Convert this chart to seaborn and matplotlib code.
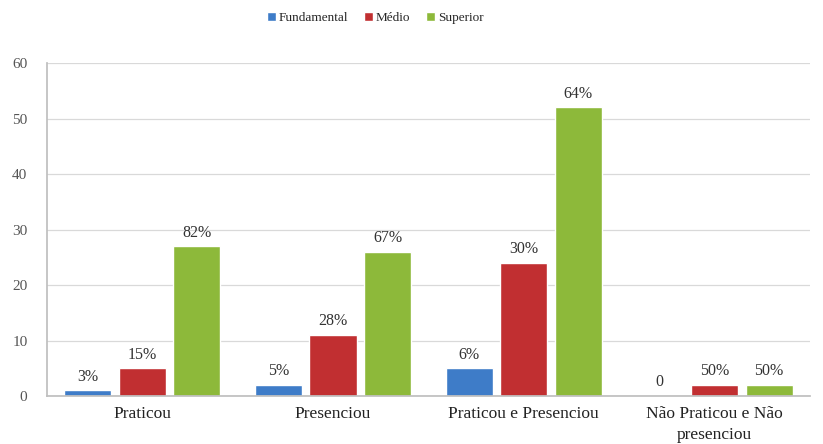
import matplotlib
matplotlib.use("Agg")
import matplotlib.pyplot as plt
import seaborn as sns
import pandas as pd

categories = ["Praticou", "Presenciou", "Praticou e Presenciou", "Não Praticou e Não\npresenciou"]
series = ["Fundamental", "Médio", "Superior"]
fundamental = [1, 2, 5, 0]
medio = [5, 11, 24, 2]
superior = [27, 26, 52, 2]
labels_fundamental = ["3%", "5%", "6%", "0"]
labels_medio = ["15%", "28%", "30%", "50%"]
labels_superior = ["82%", "67%", "64%", "50%"]
yticks = [0, 10, 20, 30, 40, 50, 60]

colors = ["#3E7CC8", "#C12F31", "#8DB93A"]

rows = []
for s, vals in zip(series, [fundamental, medio, superior]):
    for c, v in zip(categories, vals):
        rows.append({"cat": c, "serie": s, "valor": v})
df = pd.DataFrame(rows)

sns.set_theme(style="white")
plt.rcParams["font.family"] = ["Liberation Serif", "DejaVu Serif"]

fig = plt.figure(figsize=(8.23, 4.44), dpi=100)
ax = fig.add_axes([0.057, 0.108, 0.927, 0.75])

sns.barplot(data=df, x="cat", y="valor", hue="serie", palette=colors,
            width=0.86, gap=0.14, ax=ax, saturation=1, legend=True)

for cont, labs in zip(ax.containers, [labels_fundamental, labels_medio, labels_superior]):
    ax.bar_label(cont, labels=labs, padding=4, fontsize=11.5, color="#333333")

ax.set_ylim(0, 60)
ax.set_yticks(yticks)
ax.set_xlim(-0.5, 3.5)
ax.yaxis.grid(True, color="#D9D9D9", linewidth=0.9)
ax.set_axisbelow(True)
for sp in ["top", "right"]:
    ax.spines[sp].set_visible(False)
ax.spines["left"].set_color("#BFBFBF")
ax.spines["bottom"].set_color("#BFBFBF")
ax.tick_params(axis="y", colors="#555555", labelsize=11, length=0, pad=14)
ax.tick_params(axis="x", labelsize=12.5, length=0, pad=7, labelcolor="#222222")
for t in ax.get_xticklabels():
    t.set_linespacing(1.4)
ax.set_xlabel("")
ax.set_ylabel("")

h, l = ax.get_legend_handles_labels()
ax.legend(h, l, loc="center", bbox_to_anchor=(0.43, 1.135), ncol=3,
          frameon=False, fontsize=9.5, handlelength=0.7, handleheight=0.7,
          handletextpad=0.2, columnspacing=1.2)

fig.savefig("out.png", dpi=100)
